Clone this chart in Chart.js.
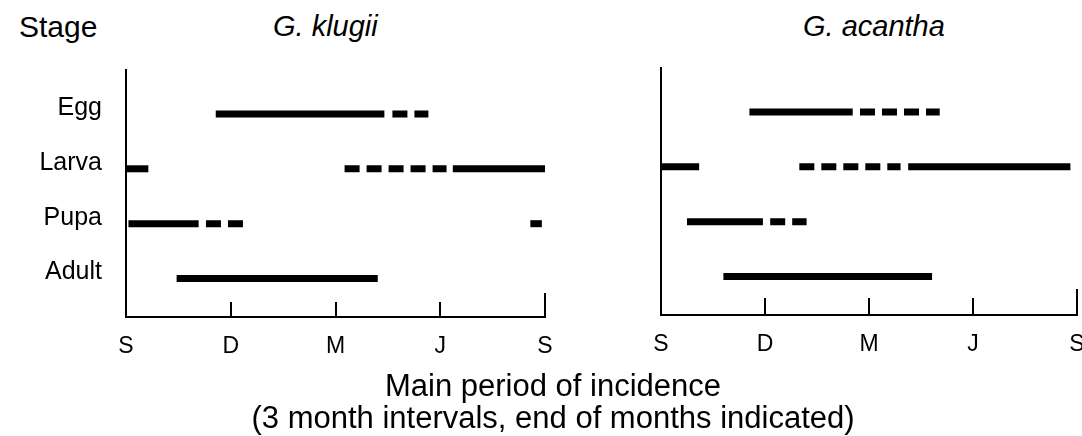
<!DOCTYPE html>
<html>
<head>
<meta charset="utf-8">
<script src="https://cdn.jsdelivr.net/npm/chart.js@4.4.1/dist/chart.umd.min.js"></script>
<style>
    html, body { margin: 0; padding: 0; background: #fff; }
    body { width: 1082px; height: 436px; position: relative; overflow: hidden;
           font-family: "Liberation Sans", Arial, sans-serif; color: #000; }
    canvas { position: absolute; top: 0; }
    #chartKlugii { left: 0; }
    #chartAcantha { left: 560px; }
    .txt { position: absolute; line-height: 1; white-space: nowrap; }
    .head { top: 12px; font-size: 30px; }
    .species { font-size: 29px; font-style: italic; }
    .caption { left: 0; width: 1106px; text-align: center; font-size: 31px; }
</style>
</head>
<body>

<div class="txt head" style="left:19px;">Stage</div>
<div class="txt species" style="left:273px; top:12px;">G. klugii</div>
<div class="txt species" style="left:803px; top:12px;">G. acantha</div>

<canvas id="chartKlugii" width="560" height="436"></canvas>
<canvas id="chartAcantha" width="522" height="436"></canvas>

<div class="txt caption" style="top:370px;">Main period of incidence</div>
<div class="txt caption" style="top:402px;">(3 month intervals, end of months indicated)</div>

<script>
// ============================================================================
// DATA (months counted from the end of September)
// ============================================================================
const stages = ['Egg', 'Larva', 'Pupa', 'Adult'];
const monthValues = [0, 3, 6, 9, 12];
const monthLabels = ['S', 'D', 'M', 'J', 'S'];

// [stage, from, to]
const klugiiSolid = [
    ['Egg', 2.57, 7.40],
    ['Larva', 0, 0.64],
    ['Larva', 9.36, 12],
    ['Pupa', 0.07, 2.08],
    ['Pupa', 11.58, 11.91],
    ['Adult', 1.45, 7.21]
];
const klugiiDashed = [
    ['Egg', 7.63, 8.66],
    ['Larva', 6.26, 9.18],
    ['Pupa', 2.29, 3.35]
];

const acanthaSolid = [
    ['Egg', 2.55, 5.53],
    ['Larva', 0, 1.10],
    ['Larva', 7.13, 11.81],
    ['Pupa', 0.75, 2.94],
    ['Adult', 1.80, 7.82]
];
const acanthaDashed = [
    ['Egg', 5.74, 8.04],
    ['Larva', 3.99, 6.91],
    ['Pupa', 3.15, 4.20]
];


// ============================================================================
// HELPERS
// ============================================================================
const FONT = '"Liberation Sans", Arial, sans-serif';
const stageLevel = name => stages.length - stages.indexOf(name);

function toDatasets(list, dashed) {
    return list.map(([stage, from, to]) => ({
        data: [{ x: from, y: stageLevel(stage) }, { x: to, y: stageLevel(stage) }],
        showLine: true,
        borderColor: '#000',
        borderWidth: 7,
        borderCapStyle: 'butt',
        borderDash: dashed ? [15, 7] : [],
        pointRadius: 0
    }));
}

// inward tick marks on the month axis
const innerTicks = {
    id: 'innerTicks',
    afterDraw(chart, args, opts) {
        const { ctx, chartArea } = chart;
        const x = chart.scales.x;
        ctx.save();
        ctx.strokeStyle = '#000';
        ctx.lineWidth = 2;
        monthValues.slice(1).forEach(v => {
            const px = Math.round(x.getPixelForValue(v));
            const len = v === 12 ? opts.endLength : opts.length;
            ctx.beginPath();
            ctx.moveTo(px, chartArea.bottom);
            ctx.lineTo(px, chartArea.bottom - len);
            ctx.stroke();
        });
        ctx.restore();
    }
};


// ============================================================================
// CHART
// ============================================================================
function buildPanel(id, solid, dashed, cfg) {
    return new Chart(document.getElementById(id), {
        type: 'scatter',
        data: { datasets: [...toDatasets(solid, false), ...toDatasets(dashed, true)] },
        plugins: [innerTicks],
        options: {
            responsive: false,
            animation: false,
            devicePixelRatio: 1,
            layout: { padding: cfg.padding },
            plugins: {
                legend: { display: false },
                tooltip: { enabled: false },
                innerTicks: { length: cfg.tickLength, endLength: cfg.endTickLength }
            },
            scales: {
                x: {
                    type: 'linear',
                    min: 0,
                    max: 12,
                    grid: { display: false, drawTicks: false },
                    border: { display: true, color: '#000', width: 2 },
                    afterBuildTicks: s => { s.ticks = monthValues.map(v => ({ value: v })); },
                    afterFit: s => { s.height = 40; s.paddingLeft = 0; s.paddingRight = 0; },
                    ticks: {
                        color: '#000',
                        padding: 16,
                        maxRotation: 0,
                        font: { family: FONT, size: 23 },
                        callback: v => monthLabels[monthValues.indexOf(v)]
                    }
                },
                y: {
                    type: 'linear',
                    min: 0.3,
                    max: 4.8,
                    grid: { display: false, drawTicks: false },
                    border: { display: true, color: '#000', width: 2 },
                    afterBuildTicks: s => { s.ticks = stages.map(st => ({ value: stageLevel(st) })); },
                    afterFit: s => { s.width = cfg.yWidth; },
                    ticks: {
                        display: cfg.showStages,
                        color: '#000',
                        padding: 24,
                        labelOffset: -6,
                        font: { family: FONT, size: 25 },
                        callback: v => stages[stages.length - v]
                    }
                }
            }
        }
    });
}

buildPanel('chartKlugii', klugiiSolid, klugiiDashed, {
    padding: { top: 70, right: 15, bottom: 79, left: 0 },
    yWidth: 126,
    showStages: true,
    tickLength: 15,
    endTickLength: 24
});

buildPanel('chartAcantha', acanthaSolid, acanthaDashed, {
    padding: { top: 68, right: 5, bottom: 81, left: 0 },
    yWidth: 101,
    showStages: false,
    tickLength: 17,
    endTickLength: 26
});
</script>
</body>
</html>
